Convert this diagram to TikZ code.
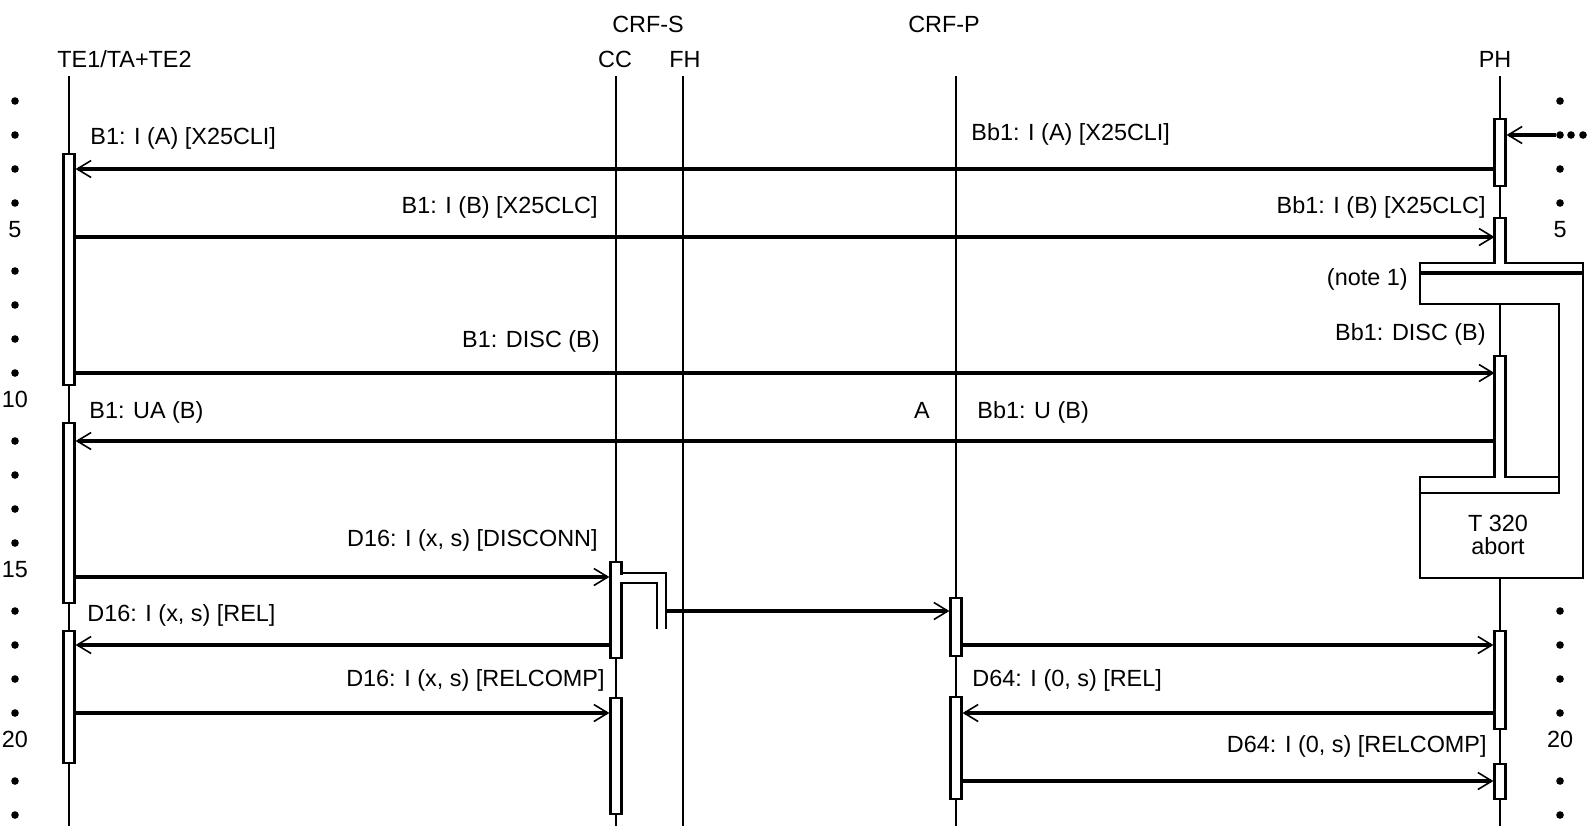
\documentclass[tikz,border=0pt]{standalone}
\usepackage{fontspec}
\setmainfont{Liberation Sans}
\usetikzlibrary{arrows.meta}
\begin{document}
\begin{tikzpicture}[x=0.5pt, y=-0.5pt, line join=miter,
  life/.style={line width=1.1pt},
  act/.style={draw, line width=1.1pt, fill=white, minimum width=5.5pt, inner sep=0pt, anchor=north},
  msg/.style={line width=1.6pt, -{Straight Barb[length=7pt, width=8.5pt, line width=0.8pt]}},
  lbl/.style={inner sep=0pt, font=\fontsize{11.7}{14}\selectfont},
  dot/.style={circle, fill, inner sep=0pt, minimum size=3.8pt}]
  \useasboundingbox (0,0) rectangle (1595,826);
  % rows
  \foreach \n in {1,...,22} \coordinate (r\n) at (0,{67+34*\n});
  % headings
  \node[lbl, anchor=base] (hte) at (124.5,67) {TE1/TA+TE2};
  \node[lbl, anchor=base] (hcc) at (615,67) {CC};
  \node[lbl, anchor=base] (hfh) at (685,67) {FH};
  \node[lbl, anchor=base] (hph) at (1495,67) {PH};
  \node[lbl, anchor=base] (hcrfs) at (648,32) {CRF-S};
  \node[lbl, anchor=base] (hcrfp) at (944,32) {CRF-P};
  % life lines
  \foreach \n/\x in {te/69, cc/616, fh/683, crfp/956, ph/1500} {
    \coordinate (\n top) at (\x,76);
    \coordinate (\n bot) at (\x,826);
    \draw[life] (\n top) -- (\n bot);
  }
  % line numbers
  \foreach \n in {1,2,3,4,6,7,8,9,11,12,13,14,16,17,18,19,21,22}
    \node[dot] (ld\n) at (15,0 |- r\n) {};
  \foreach \n in {1,2,3,4,16,17,18,19,21,22}
    \node[dot] (rd\n) at (1560,0 |- r\n) {};
  \foreach \n in {5,10,15,20}
    \node[lbl, anchor=base] (ln\n) at (15,0 |- r\n) {\n};
  \foreach \n in {5,20}
    \node[lbl, anchor=base] (rn\n) at (1560,0 |- r\n) {\n};
  \node[dot] (rdb) at (1571,0 |- r2) {};
  \node[dot] (rdc) at (1583,0 |- r2) {};
  % activity boxes
  \foreach \n/\x/\t/\b in {teA/69/153/384, teB/69/422/602, teC/69/630/762,
      ccA/616/561/657, ccB/616/697/813, crfpA/956/597/655, crfpB/956/696/798,
      phA/1500/118/185, phD/1500/630/728, phE/1500/763/798}
    \node[act, minimum height={(\b-\t)*0.5pt}] (\n) at (\x,\t) {};
  % PH timer
  \draw[life, fill=white] (1494.5,218) -- (1505.5,218) -- (1505.5,263) -- (1583,263)
    -- (1583,578) -- (1420,578) -- (1420,477) -- (1494.5,477) -- (1494.5,356)
    -- (1505.5,356) -- (1505.5,477) -- (1559,477) -- (1559,304) -- (1420,304)
    -- (1420,263) -- (1494.5,263) -- cycle;
  \draw[line width=1.6pt] (1420,273) -- (1583,273);
  \draw[life] (1420,493) -| (1559,477);
  \coordinate (phB) at (1494.5,240);
  \coordinate (phC) at (1494.5,400);
  \node[lbl, align=center, font=\fontsize{11.7}{11.5}\selectfont] (timer) at (1498,535) {T 320\\abort};
  \node[lbl, anchor=base east] (note) at (1408,285) {(note 1)};
  % CC to FH
  \fill[white] (620.3,574.5) rectangle (623,581.5);
  \draw[life] (621.5,573) -| (666,629);
  \draw[life] (621.5,583) -| (657,629);
  \coordinate (fhJ) at (666,611);
  % messages
  \draw[msg] (rd2) -- (phA.east |- rd2);
  \draw[msg] (phA.west |- r3) -- (teA.east |- r3);
  \node[lbl, anchor=base west] (m1a) at (90,144) {B1: I (A) [X25CLI]};
  \node[lbl, anchor=base west] (m1b) at (971,140) {Bb1: I (A) [X25CLI]};
  \draw[msg] (teA.east |- r5) -- (phB |- r5);
  \node[lbl, anchor=base east] (m2a) at (598,213) {B1: I (B) [X25CLC]};
  \node[lbl, anchor=base east] (m2b) at (1486,213) {Bb1: I (B) [X25CLC]};
  \draw[msg] (teA.east |- r9) -- (phC |- r9);
  \node[lbl, anchor=base east] (m3a) at (600,347) {B1: DISC (B)};
  \node[lbl, anchor=base east] (m3b) at (1486,340) {Bb1: DISC (B)};
  \draw[msg] (phC |- r11) -- (teB.east |- r11);
  \node[lbl, anchor=base west] (m4a) at (89,418) {B1: UA (B)};
  \node[lbl, anchor=base] (m4c) at (922,418) {A};
  \node[lbl, anchor=base west] (m4b) at (977,418) {Bb1: U (B)};
  \draw[msg] (teB.east |- r15) -- (ccA.west |- r15);
  \node[lbl, anchor=base east] (m5) at (598,546) {D16: I (x, s) [DISCONN]};
  \draw[msg] (fhJ) -- (crfpA.west |- fhJ);
  \draw[msg] (ccA.west |- r17) -- (teC.east |- r17);
  \node[lbl, anchor=base west] (m6) at (87,621) {D16: I (x, s) [REL]};
  \draw[msg] (crfpA.east |- r17) -- (phD.west |- r17);
  \draw[msg] (teC.east |- r19) -- (ccB.west |- r19);
  \node[lbl, anchor=base east] (m7) at (605,686) {D16: I (x, s) [RELCOMP]};
  \draw[msg] (phD.west |- r19) -- (crfpB.east |- r19);
  \node[lbl, anchor=base west] (m8) at (972,686) {D64: I (0, s) [REL]};
  \draw[msg] (crfpB.east |- r21) -- (phE.west |- r21);
  \node[lbl, anchor=base east] (m9) at (1487,752) {D64: I (0, s) [RELCOMP]};
\end{tikzpicture}
\end{document}
